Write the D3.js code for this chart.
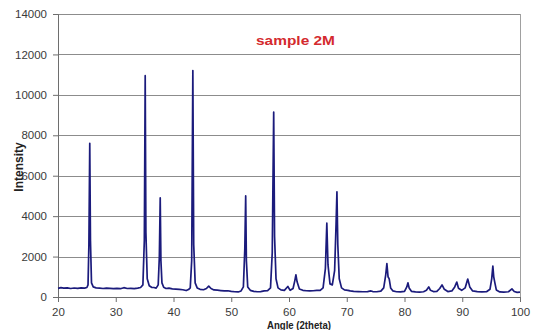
<html>
<meta charset="utf-8">
<head>
<title>sample 2M</title>
<script src="https://d3js.org/d3.v7.min.js"></script>
<style>
  body { margin: 0; background: #fff; }
  text { font-family: Arial, "Liberation Sans", sans-serif; }
</style>
</head>
<body>
<div id="mychart"></div>
<script>
// chart text
var chartTitle = "sample 2M";
var xTitle = "Angle (2theta)";
var yTitle = "Intensity";

// tick labels
var xTicks = [20, 30, 40, 50, 60, 70, 80, 90, 100];
var yTicks = [0, 2000, 4000, 6000, 8000, 10000, 12000, 14000];

// scan: [angle, intensity]
var scan = [
  [20.0, 430], [20.5, 460], [21.0, 440], [21.6, 455], [22.2, 420], [22.8, 445],
  [23.4, 430], [24.0, 450], [24.6, 440], [25.0, 470], [25.2, 600], [25.35, 2600],
  [25.5, 7600], [25.62, 2800], [25.8, 700], [26.1, 500], [26.6, 450], [27.2, 440],
  [27.8, 420], [28.4, 440], [29.0, 430], [29.6, 415], [30.2, 430], [30.8, 410],
  [31.4, 460], [32.0, 420], [32.6, 430], [33.2, 410], [33.8, 440], [34.3, 470],
  [34.7, 600], [34.95, 2800], [35.1, 10950], [35.22, 3200], [35.45, 900], [35.8, 560],
  [36.2, 480], [36.6, 470], [37.0, 440], [37.35, 600], [37.55, 2000], [37.7, 4900],
  [37.82, 1800], [38.0, 700], [38.3, 480], [38.7, 420], [39.2, 440], [39.8, 400],
  [40.4, 390], [41.0, 380], [41.6, 360], [42.2, 320], [42.6, 370], [42.9, 450],
  [43.15, 1800], [43.35, 11200], [43.5, 2600], [43.75, 700], [44.1, 450], [44.6, 380],
  [45.2, 360], [45.7, 420], [46.1, 540], [46.5, 420], [47.0, 350], [47.6, 340],
  [48.2, 320], [48.8, 300], [49.4, 310], [50.0, 280], [50.6, 260], [51.2, 250],
  [51.7, 300], [52.1, 500], [52.35, 2400], [52.5, 5000], [52.62, 1800], [52.85, 500],
  [53.3, 330], [53.9, 280], [54.5, 260], [55.1, 270], [55.7, 300], [56.3, 320],
  [56.8, 450], [57.1, 2200], [57.35, 9150], [57.5, 3000], [57.75, 900], [58.1, 450],
  [58.6, 350], [59.2, 330], [59.8, 520], [60.2, 330], [60.7, 420], [61.0, 800],
  [61.2, 1100], [61.4, 750], [61.8, 400], [62.4, 330], [63.0, 310], [63.6, 300],
  [64.2, 310], [64.8, 330], [65.4, 330], [65.9, 450], [66.3, 1400], [66.55, 3650],
  [66.75, 1600], [67.1, 650], [67.5, 600], [67.9, 1300], [68.15, 3600], [68.3, 5200],
  [68.45, 2600], [68.7, 900], [69.1, 450], [69.6, 350], [70.2, 330], [70.6, 300],
  [71.2, 280], [72.0, 270], [72.8, 260], [73.6, 270], [74.2, 300], [74.5, 270],
  [75.2, 260], [75.9, 290], [76.4, 450], [76.75, 1100], [76.95, 1650], [77.15, 1000],
  [77.35, 900], [77.6, 450], [78.0, 300], [78.6, 260], [79.3, 250], [80.0, 280],
  [80.4, 500], [80.6, 700], [80.8, 450], [81.2, 280], [81.9, 250], [82.6, 240],
  [83.3, 260], [83.8, 330], [84.2, 500], [84.5, 330], [85.0, 270], [85.6, 280],
  [86.1, 420], [86.5, 600], [86.9, 380], [87.5, 270], [88.2, 300], [88.7, 500],
  [89.05, 740], [89.35, 430], [89.9, 330], [90.5, 450], [90.95, 890], [91.3, 500],
  [91.8, 300], [92.6, 270], [93.4, 250], [94.2, 260], [94.8, 380], [95.1, 900],
  [95.3, 1530], [95.45, 1000], [95.65, 700], [95.9, 350], [96.5, 250], [97.2, 240],
  [98.0, 260], [98.6, 400], [99.0, 270], [99.5, 230], [100.0, 240]
];

var width = 534,
    height = 330;
var margin = { top: 14, right: 14, bottom: 33, left: 58 };
var innerW = width - margin.left - margin.right,
    innerH = height - margin.top - margin.bottom;

var svg = d3.select("#mychart")
  .append("svg")
    .attr("width", width)
    .attr("height", height);

var g = svg.append("g")
    .attr("transform", "translate(" + margin.left + "," + margin.top + ")");

var x = d3.scaleLinear().domain([20, 100]).range([0, innerW]);
var y = d3.scaleLinear().domain([0, 14000]).range([innerH, 0]);

// horizontal gridlines
g.selectAll(".grid")
  .data(yTicks.slice(1))
  .enter()
  .append("line")
    .attr("x1", 0)
    .attr("x2", innerW)
    .attr("y1", function(d) { return Math.round(y(d)) + 0.5; })
    .attr("y2", function(d) { return Math.round(y(d)) + 0.5; })
    .attr("stroke", "#8c8c8c")
    .attr("stroke-width", 1);

// right border
g.append("line")
    .attr("x1", innerW + 0.5).attr("x2", innerW + 0.5)
    .attr("y1", 0).attr("y2", innerH)
    .attr("stroke", "#a0a0a0");

var xAxis = g.append("g")
    .attr("transform", "translate(0," + innerH + ")")
    .call(d3.axisBottom(x).tickValues(xTicks).tickSize(5).tickPadding(6)
      .tickFormat(d3.format("d")));

var yAxis = g.append("g")
    .call(d3.axisLeft(y).tickValues(yTicks).tickSize(5).tickPadding(6)
      .tickFormat(d3.format("d")));

[xAxis, yAxis].forEach(function(a) {
  a.select(".domain").attr("stroke", "#6e6e6e");
  a.selectAll(".tick line").attr("stroke", "#6e6e6e");
  a.selectAll(".tick text")
    .attr("fill", "#3a3a3a")
    .style("font-size", "11.5px");
});

// the scan
var line = d3.line()
  .x(function(d) { return x(d[0]); })
  .y(function(d) { return y(d[1]); });

g.append("path")
    .datum(scan)
    .attr("d", line)
    .attr("fill", "none")
    .attr("stroke", "#1b1b7c")
    .attr("stroke-width", 1.7)
    .attr("stroke-linejoin", "round");

// titles
svg.append("text")
    .attr("x", 256)
    .attr("y", 45)
    .attr("textLength", 79)
    .attr("lengthAdjust", "spacingAndGlyphs")
    .attr("fill", "#d42a2e")
    .style("font-size", "13px")
    .style("font-weight", "bold")
    .text(chartTitle);

svg.append("text")
    .attr("x", 267)
    .attr("y", 329)
    .attr("textLength", 64)
    .attr("lengthAdjust", "spacingAndGlyphs")
    .attr("fill", "#222")
    .style("font-size", "11px")
    .style("font-weight", "bold")
    .text(xTitle);

svg.append("text")
    .attr("transform", "translate(23,167) rotate(-90)")
    .attr("text-anchor", "middle")
    .attr("fill", "#222")
    .style("font-size", "12px")
    .style("font-weight", "bold")
    .text(yTitle);
</script>
</body>
</html>
